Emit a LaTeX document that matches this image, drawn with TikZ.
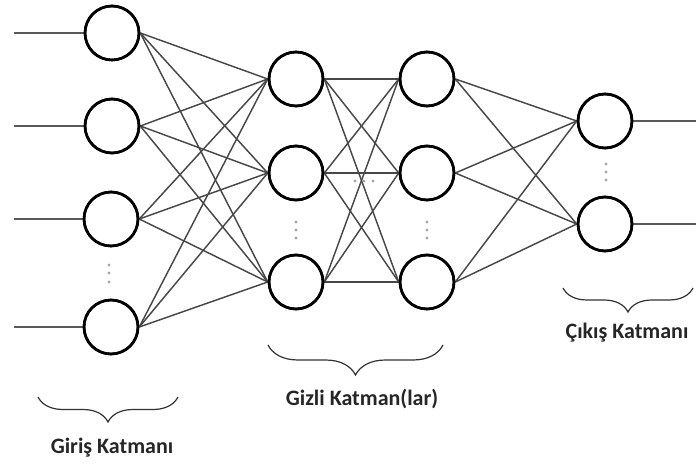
\documentclass[tikz,border=0pt]{standalone}
\usepackage{fontspec}
\setmainfont{Carlito}
\usetikzlibrary{decorations.pathreplacing}
\begin{document}
\begin{tikzpicture}[x=1pt,y=-1pt,
  neuron/.style={circle,draw=black,line width=2.6pt,minimum size=54pt,inner sep=0pt,fill=white},
  link/.style={draw=black!72,line width=1.45pt},
  io/.style={draw=black!65,line width=1.9pt},
  dot/.style={fill=black!35,draw=none},
  layerbrace/.style={draw=black!80,line width=1.2pt,decorate,decoration={brace,mirror,amplitude=#1,aspect=0.5}},
  caption/.style={font=\bfseries\fontsize{22}{26}\selectfont,text=black!85}]
\useasboundingbox (0,0) rectangle (696,465);

% input layer
\node[neuron] (i1) at (112,33) {};
\node[neuron] (i2) at (112,126) {};
\node[neuron] (i3) at (111,219) {};
\node[neuron] (i4) at (111,327) {};
% first hidden layer
\node[neuron] (a1) at (296,79) {};
\node[neuron] (a2) at (296,173) {};
\node[neuron] (a3) at (296,282) {};
% second hidden layer
\node[neuron] (b1) at (427,79) {};
\node[neuron] (b2) at (427,173) {};
\node[neuron] (b3) at (427,282) {};
% output layer
\node[neuron] (o1) at (605,121) {};
\node[neuron] (o2) at (605,224) {};

% free ends of the input and output lines
\coordinate (in1) at (14,33);
\coordinate (in2) at (14,126);
\coordinate (in3) at (14,219);
\coordinate (in4) at (14,327);
\coordinate (out1) at (696,121);
\coordinate (out2) at (696,224);

% fully connected links between neighbouring layers
\foreach \s in {i1,i2,i3,i4}
  \foreach \t in {a1,a2,a3}
    \draw[link] (\s.east) -- (\t.west);
\foreach \s in {a1,a2,a3}
  \foreach \t in {b1,b2,b3}
    \draw[link] (\s.east) -- (\t.west);
\foreach \s in {b1,b2,b3}
  \foreach \t in {o1,o2}
    \draw[link] (\s.east) -- (\t.west);

\foreach \k in {1,2,3,4}
  \draw[io] (in\k) -- (i\k.west);
\draw[io] (o1.east) -- (out1);
\draw[io] (o2.east) -- (out2);

% redraw circles above the connectors
\foreach \n in {i1,i2,i3,i4,a1,a2,a3,b1,b2,b3,o1,o2}
  \draw[line width=2.6pt] (\n) circle (27pt);

% ellipsis dots
\foreach \y in {265,273,282} \fill[dot] (109,\y) circle (1.7pt);
\foreach \y in {222,230,238} {\fill[dot] (296,\y) circle (1.7pt); \fill[dot] (427,\y) circle (1.7pt);}
\foreach \y in {164,172,180} \fill[dot] (606,\y) circle (1.7pt);
\foreach \x in {355,364,373} \fill[dot] (\x,181) circle (1.7pt);

% layer braces and captions
\coordinate (bi1) at (38,397);  \coordinate (bi2) at (178,397);
\coordinate (bh1) at (268,345); \coordinate (bh2) at (443,345);
\coordinate (bo1) at (563,288); \coordinate (bo2) at (693,288);
\draw[layerbrace=25pt] (bi1) -- (bi2);
\draw[layerbrace=30pt] (bh1) -- (bh2);
\draw[layerbrace=24pt] (bo1) -- (bo2);

\node[caption] (ci) at (112,448) {Giriş Katmanı};
\node[caption] (ch) at (362,399) {Gizli Katman(lar)};
\node[caption] (co) at (627,333) {Çıkış Katmanı};
\end{tikzpicture}
\end{document}
